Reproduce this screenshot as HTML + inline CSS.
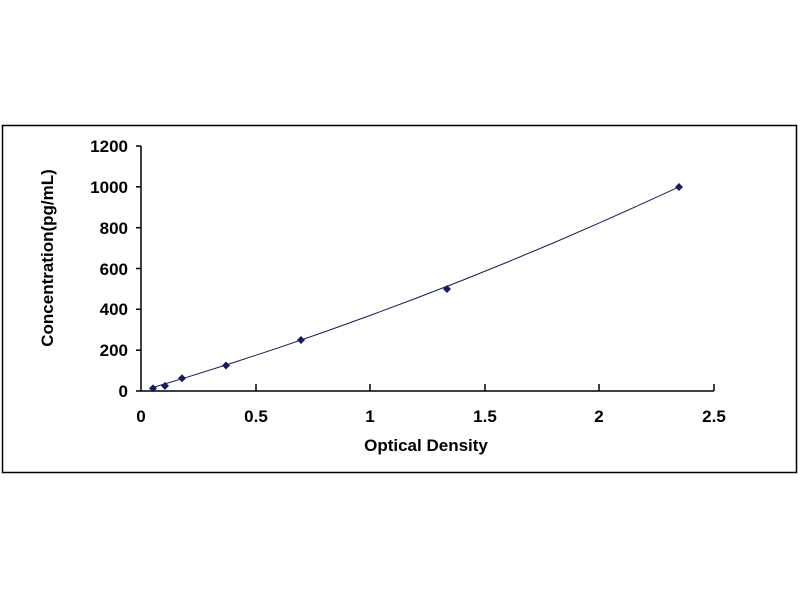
<!DOCTYPE html>
<html><head><style>body{margin:0;background:#fff}</style></head><body>
<svg width="800" height="600" xmlns="http://www.w3.org/2000/svg" font-family="Liberation Sans, Arial, sans-serif" font-weight="bold">
<rect x="2.5" y="125.5" width="794" height="347" fill="#fff" stroke="#000" stroke-width="1.5"/>
<g stroke="#000" stroke-width="1.5">
<line x1="141" y1="146" x2="141" y2="391"/>
<line x1="141" y1="391" x2="714" y2="391"/>
<line x1="136" y1="146" x2="141" y2="146"/>
<line x1="136" y1="186.8" x2="141" y2="186.8"/>
<line x1="136" y1="227.7" x2="141" y2="227.7"/>
<line x1="136" y1="268.5" x2="141" y2="268.5"/>
<line x1="136" y1="309.3" x2="141" y2="309.3"/>
<line x1="136" y1="350.2" x2="141" y2="350.2"/>
<line x1="136" y1="391" x2="141" y2="391"/>
<line x1="256" y1="384" x2="256" y2="391"/>
<line x1="370" y1="384" x2="370" y2="391"/>
<line x1="485" y1="384" x2="485" y2="391"/>
<line x1="599" y1="384" x2="599" y2="391"/>
<line x1="714" y1="384" x2="714" y2="391"/>
</g>
<g font-size="17" text-anchor="end">
<text x="128" y="152">1200</text>
<text x="128" y="193">1000</text>
<text x="128" y="234">800</text>
<text x="128" y="275">600</text>
<text x="128" y="315">400</text>
<text x="128" y="356">200</text>
<text x="128" y="397">0</text>
</g>
<g font-size="17" text-anchor="middle">
<text x="141" y="422">0</text>
<text x="256" y="422">0.5</text>
<text x="370" y="422">1</text>
<text x="485" y="422">1.5</text>
<text x="599" y="422">2</text>
<text x="714" y="422">2.5</text>
<text x="426" y="451">Optical Density</text>
<text transform="translate(53,258) rotate(-90)">Concentration(pg/mL)</text>
</g>
<polyline points="152.5,387.6 186.8,377.3 232.6,362.9 278.4,347.8 324.2,332 370,315.5 415.8,298.4 461.6,280.6 507.4,262.1 553.2,243 599,223.1 644.8,202.6 679.2,186.8" fill="none" stroke="#1a1a4a" stroke-width="1"/>
<g fill="#1a1a5a">
<path d="M153,384.4 l4,4 l-4,4 l-4,-4z"/>
<path d="M165,381.9 l4,4 l-4,4 l-4,-4z"/>
<path d="M182,374.2 l4,4 l-4,4 l-4,-4z"/>
<path d="M226,361.5 l4,4 l-4,4 l-4,-4z"/>
<path d="M301,336 l4,4 l-4,4 l-4,-4z"/>
<path d="M447,285 l4,4 l-4,4 l-4,-4z"/>
<path d="M679,183 l4,4 l-4,4 l-4,-4z"/>
</g>
</svg>
</body></html>
